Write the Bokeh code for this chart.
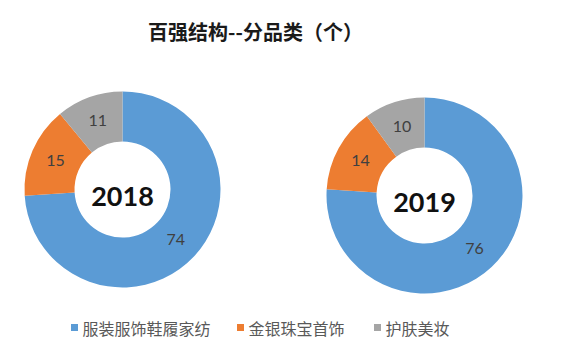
import numpy as np
from bokeh.plotting import figure
from bokeh.models import Range1d, ColumnDataSource
from bokeh.core.properties import value
from bokeh.embed import file_html
from bokeh.resources import INLINE

title_text = "百强结构--分品类（个）"
categories = ["服装服饰鞋履家纺", "金银珠宝首饰", "护肤美妆"]
colors = ["#5B9BD5", "#ED7D31", "#A5A5A5"]
years = ["2018", "2019"]
values_2018 = [74, 15, 11]
values_2019 = [76, 14, 10]

W, H = 584, 351
p = figure(width=W, height=H, x_range=Range1d(0, W), y_range=Range1d(0, H),
           output_backend="svg", toolbar_location=None, min_border=0)
p.axis.visible = False
p.grid.visible = False
p.outline_line_color = None
p.background_fill_color = "white"

centers = [(122, 351 - 189), (424, 351 - 195)]
outer_r, inner_r = 98, 48
label_r = 73

for yr, vals, (cx, cy) in zip(years, [values_2018, values_2019], centers):
    v = np.array(vals, dtype=float)
    frac = v / v.sum()
    cum_end = np.cumsum(frac)
    cum_start = cum_end - frac
    start = np.pi / 2 - cum_start * 2 * np.pi
    end = np.pi / 2 - cum_end * 2 * np.pi
    mid = (start + end) / 2
    src = ColumnDataSource(dict(x=[cx] * len(v), y=[cy] * len(v), start=start, end=end,
                                color=colors, lx=cx + label_r * np.cos(mid),
                                ly=cy + label_r * np.sin(mid), txt=[str(int(a)) for a in vals]))
    p.annular_wedge(x="x", y="y", inner_radius=inner_r, outer_radius=outer_r,
                    start_angle="start", end_angle="end", direction="clock",
                    fill_color="color", line_color=None, source=src)
    p.text(x="lx", y="ly", text="txt", source=src, text_align="center",
           text_baseline="middle", text_font=value("Lato"), text_font_size="16px",
           text_color="#404040")
    p.text(x=[cx], y=[cy - 7], text=[yr], text_align="center", text_baseline="middle",
           text_font=value("Lato"), text_font_style="bold",
           text_font_size="27px", text_color="#111111")

# title
p.text(x=[255], y=[351 - 31], text=[title_text], text_align="center", text_baseline="middle",
       text_font=value("Noto Sans CJK SC"), text_font_style="bold", text_font_size="20px",
       text_color="#1a1a1a")

# legend
leg_x = [70, 236, 373]
leg_y = 351 - 327
p.rect(x=[x + 4 for x in leg_x], y=[leg_y] * 3, width=7, height=7, fill_color=colors, line_color=None)
p.text(x=[x + 12 for x in leg_x], y=[leg_y] * 3, text=categories, text_align="left",
       text_baseline="middle", text_font=value("Noto Sans CJK SC"), text_font_size="16px",
       text_color="#595959")

open("out.html", "w").write(file_html(p, INLINE))
